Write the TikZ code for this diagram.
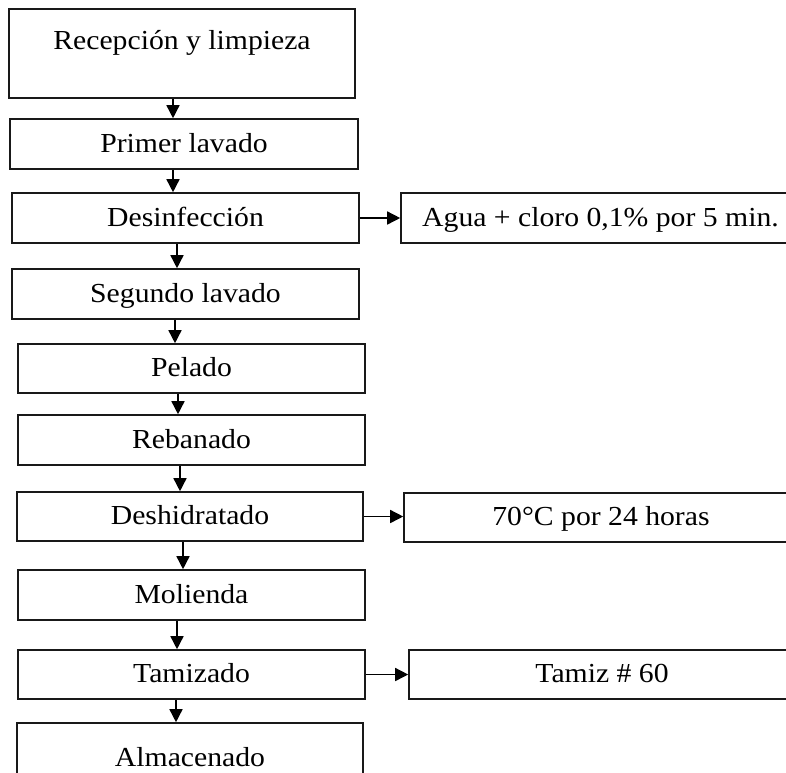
\documentclass[tikz,border=0pt]{standalone}
\usepackage{fontspec}
\setmainfont{Liberation Serif}[FakeStretch=1.08]
\usetikzlibrary{arrows.meta}

\tikzset{
    texto/.style={font=\fontsize{27.5}{32}\selectfont, text=black},
    paso/.style={draw=black!90, line width=1.6pt, inner sep=0pt, text height=22pt, text depth=6pt, texto},
    flecha/.style={line width=1.5pt, -{Triangle[length=13pt,width=13pt]}}
}

\begin{document}
\begin{tikzpicture}[x=1pt,y=-1pt]

    \clip (0,0) rectangle (786,772);

    % etapas del proceso
    \node[paso, minimum width=346pt, minimum height=89pt] (rec) at (182,53.5) {};
    \node[texto] (rectxt) at (182,43) {Recepción y limpieza};
    \node[paso, minimum width=348pt, minimum height=50pt] (pri) at (184,144) {Primer lavado};
    \node[paso, minimum width=347pt, minimum height=50pt] (des) at (185.5,218) {Desinfección};
    \node[paso, minimum width=347pt, minimum height=50pt] (seg) at (185.5,294) {Segundo lavado};
    \node[paso, minimum width=347pt, minimum height=49pt] (pel) at (191.5,368.5) {Pelado};
    \node[paso, minimum width=347pt, minimum height=50pt] (reb) at (191.5,440) {Rebanado};
    \node[paso, minimum width=346pt, minimum height=49pt] (desh) at (190,516.5) {Deshidratado};
    \node[paso, minimum width=347pt, minimum height=50pt] (mol) at (191.5,595) {Molienda};
    \node[paso, minimum width=347pt, minimum height=49pt] (tam) at (191.5,674.5) {Tamizado};
    \node[paso, minimum width=346pt, minimum height=70pt] (alm) at (190,758) {Almacenado};

    % condiciones
    \node[paso, minimum width=399pt, minimum height=50pt] (agua) at (600.5,218) {Agua + cloro 0,1\% por 5 min.};
    \node[paso, minimum width=394pt, minimum height=49pt] (calor) at (601,517.5) {70°C por 24 horas};
    \node[paso, minimum width=386pt, minimum height=49pt] (tamiz) at (602,674.5) {Tamiz \# 60};

    % flechas
    \draw[flecha] ([xshift=-9pt]rec.south) -- ([xshift=-9pt]rec.south |- pri.north);
    \draw[flecha] ([xshift=-11pt]pri.south) -- ([xshift=-11pt]pri.south |- des.north);
    \draw[flecha] ([xshift=-8.5pt]des.south) -- ([xshift=-8.5pt]des.south |- seg.north);
    \draw[flecha] ([xshift=-10.5pt]seg.south) -- ([xshift=-10.5pt]seg.south |- pel.north);
    \draw[flecha] ([xshift=-13.5pt]pel.south) -- ([xshift=-13.5pt]pel.south |- reb.north);
    \draw[flecha] ([xshift=-11.5pt]reb.south) -- ([xshift=-11.5pt]reb.south |- desh.north);
    \draw[flecha] ([xshift=-7pt]desh.south) -- ([xshift=-7pt]desh.south |- mol.north);
    \draw[flecha] ([xshift=-14.5pt]mol.south) -- ([xshift=-14.5pt]mol.south |- tam.north);
    \draw[flecha] ([xshift=-15.5pt]tam.south) -- ([xshift=-15.5pt]tam.south |- alm.north);

    \draw[flecha] (des.east) -- (agua.west);
    \draw[flecha] (desh.east) -- (desh.east -| calor.west);
    \draw[flecha] (tam.east) -- (tamiz.west);

\end{tikzpicture}
\end{document}
